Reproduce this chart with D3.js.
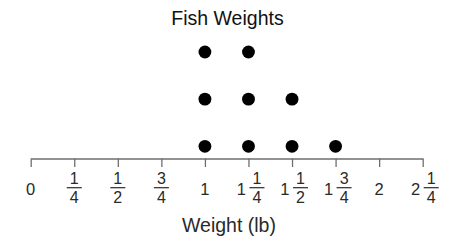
<!DOCTYPE html>
<html>
<head>
<meta charset="utf-8">
<script src="https://cdn.jsdelivr.net/npm/d3@7"></script>
<style>
  html, body { margin: 0; padding: 0; background: #fff; }
  svg { display: block; font-family: "Liberation Sans", Arial, sans-serif; }
</style>
</head>
<body>
<svg id="chart" width="458" height="248"></svg>
<script>
// Data
const title = "Fish Weights";
const axisTitle = "Weight (lb)";
const weights = [1, 1.25, 1.5, 1.75];
const counts = [3, 3, 2, 1];
const tickValues = [0, 0.25, 0.5, 0.75, 1, 1.25, 1.5, 1.75, 2, 2.25];
const tickLabels = ["0", "1/4", "1/2", "3/4", "1", "1 1/4", "1 1/2", "1 3/4", "2", "2 1/4"];

const svg = d3.select("#chart");
const textColor = "#2a2a2a";
const axisColor = "#6e6e6e";

const x = d3.scaleLinear().domain([0, 2.25]).range([30.7, 422.7]);
const y = d3.scaleLinear().domain([1, 3]).range([146.3, 52]);
const axisY = 158.5;

// Title
svg.append("text")
  .attr("x", 227.5).attr("y", 24.5)
  .attr("text-anchor", "middle")
  .attr("font-size", 19.5)
  .attr("fill", "#111")
  .text(title);

// Axis
const axis = d3.axisBottom(x)
  .tickValues(tickValues)
  .tickSize(8.5)
  .tickSizeOuter(0)
  .tickFormat("");
const gAxis = svg.append("g").attr("transform", `translate(0,${axisY})`).call(axis);
gAxis.select(".domain").attr("stroke", axisColor).attr("stroke-width", 1.3);
gAxis.selectAll(".tick line").attr("stroke", axisColor).attr("stroke-width", 1.3);

// Tick labels (whole numbers and stacked fractions)
const labels = svg.append("g").attr("fill", textColor);
tickValues.forEach((v, i) => {
  const lab = tickLabels[i];
  const tx = x(v);
  const parts = lab.split(" ");
  let whole = null, frac = null;
  if (parts.length === 2) { whole = parts[0]; frac = parts[1]; }
  else if (lab.includes("/")) { frac = lab; }
  else { whole = lab; }
  let fracCx = tx;
  if (whole !== null && frac === null) {
    labels.append("text")
      .attr("x", tx).attr("y", 194.8)
      .attr("text-anchor", "middle")
      .attr("font-size", 16.5)
      .text(whole);
  } else if (whole !== null && frac !== null) {
    labels.append("text")
      .attr("x", tx - 2.5).attr("y", 194.8)
      .attr("text-anchor", "end")
      .attr("font-size", 16.5)
      .text(whole);
    fracCx = tx + 8.5;
  }
  if (frac !== null) {
    const [num, den] = frac.split("/");
    labels.append("text")
      .attr("x", fracCx).attr("y", 184)
      .attr("text-anchor", "middle")
      .attr("font-size", 16)
      .text(num);
    labels.append("line")
      .attr("x1", fracCx - 7.5).attr("x2", fracCx + 7.5)
      .attr("y1", 187.7).attr("y2", 187.7)
      .attr("stroke", textColor).attr("stroke-width", 1.2);
    labels.append("text")
      .attr("x", fracCx).attr("y", 203)
      .attr("text-anchor", "middle")
      .attr("font-size", 16)
      .text(den);
  }
});

// Axis title
svg.append("text")
  .attr("x", 229).attr("y", 232.3)
  .attr("text-anchor", "middle")
  .attr("font-size", 19.5)
  .attr("fill", textColor)
  .text(axisTitle);

// Dots
const dots = [];
weights.forEach((w, i) => {
  for (let k = 1; k <= counts[i]; k++) dots.push({ w, k });
});
svg.append("g").selectAll("circle")
  .data(dots)
  .join("circle")
  .attr("cx", d => x(d.w))
  .attr("cy", d => y(d.k))
  .attr("r", 6.4)
  .attr("fill", "#000");
</script>
</body>
</html>
